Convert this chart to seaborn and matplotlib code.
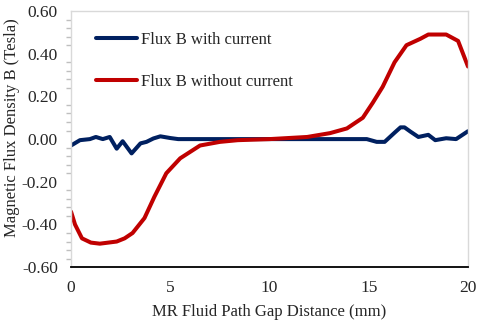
import matplotlib.pyplot as plt
import matplotlib.ticker as mticker
import pandas as pd
import seaborn as sns

# data
x_with = [0, 0.45, 0.95, 1.25, 1.6, 1.95, 2.3, 2.6, 3.05, 3.5, 3.8, 4.15, 4.5, 5.0,
          5.4, 7, 9, 11, 13, 14.9, 15.4, 15.8, 16.3, 16.6, 16.8, 17.1, 17.5, 18.0,
          18.35, 18.9, 19.4, 20]
b_with = [-0.03, -0.005, 0.0, 0.01, 0.0, 0.01, -0.045, -0.01, -0.067, -0.02, -0.013,
          0.003, 0.013, 0.005, 0.0, 0.0, 0.0, 0.0, 0.0, 0.0, -0.013, -0.013, 0.03,
          0.055, 0.055, 0.035, 0.01, 0.02, -0.005, 0.004, 0.0, 0.037]

x_without = [0, 0.2, 0.55, 1.0, 1.45, 2.3, 2.7, 3.1, 3.7, 4.2, 4.8, 5.5, 6.5, 7.5, 8.4,
             10, 11.9, 13.05, 13.9, 14.7, 15.2, 15.7, 16.3, 16.9, 17.6, 18.0, 18.9,
             19.5, 20]
b_without = [-0.34, -0.40, -0.465, -0.485, -0.49, -0.48, -0.465, -0.44, -0.37, -0.27,
             -0.16, -0.09, -0.03, -0.013, -0.005, 0.0, 0.01, 0.028, 0.05, 0.10, 0.17,
             0.245, 0.36, 0.44, 0.47, 0.49, 0.49, 0.46, 0.34]

df = pd.concat([
    pd.DataFrame({"x": x_with, "B": b_with, "series": "Flux B with current"}),
    pd.DataFrame({"x": x_without, "B": b_without, "series": "Flux B without current"}),
])

sns.set_style("white")
plt.rcParams["font.family"] = ["Liberation Serif", "DejaVu Serif"]

fig = plt.figure(figsize=(4.8, 3.25), dpi=100)
ax = fig.add_axes([0.148, 0.178, 0.827, 0.788])

sns.lineplot(data=df, x="x", y="B", hue="series", sort=False,
             palette=["#002060", "#C00000"], linewidth=2.9, ax=ax)

ax.set_xlim(0, 20)
ax.set_ylim(-0.6, 0.6)
ax.xaxis.set_major_locator(mticker.MultipleLocator(5))
ax.xaxis.set_minor_locator(mticker.MultipleLocator(1))
ax.yaxis.set_major_locator(mticker.MultipleLocator(0.2))
ax.yaxis.set_minor_locator(mticker.MultipleLocator(0.04))
ax.yaxis.set_major_formatter(mticker.FormatStrFormatter("%.2f"))

ax.tick_params(axis="x", which="major", direction="inout", length=7, width=1,
               color="black", labelsize=12.5, pad=6)
ax.tick_params(axis="x", which="minor", direction="in", length=3.5, width=1, color="black")
ax.tick_params(axis="y", which="major", direction="inout", length=7, width=1,
               color="#BFBFBF", labelsize=12.5, pad=6)
ax.tick_params(axis="y", which="minor", direction="out", length=3.5, width=1,
               color="#BFBFBF", left=True)

for side in ["top", "right", "left"]:
    ax.spines[side].set_color("#D9D9D9")
    ax.spines[side].set_linewidth(1)
ax.spines["bottom"].set_color("black")
ax.spines["bottom"].set_linewidth(1.3)

ax.set_xlabel("MR Fluid Path Gap Distance (mm)", fontsize=12)
ax.set_ylabel("Magnetic Flux Density B (Tesla)", fontsize=12)
ax.xaxis.set_label_coords(0.5, -0.145)
ax.yaxis.set_label_coords(-0.128, 0.545)

leg = ax.legend(loc="upper left", frameon=False, fontsize=12, handlelength=2.5,
                handletextpad=0.2, labelspacing=1.55, borderaxespad=0,
                bbox_to_anchor=(0.045, 0.945))

plt.savefig("out.png", dpi=100)
